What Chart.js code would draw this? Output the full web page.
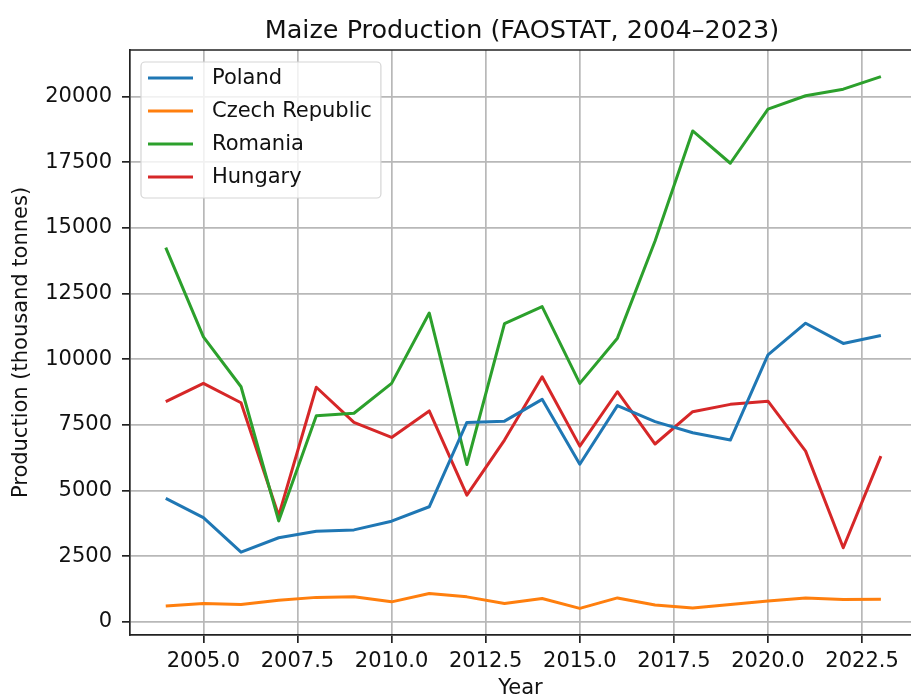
<!DOCTYPE html>
<html>
<head>
<meta charset="utf-8">
<title>Maize Production</title>
<script src="https://cdn.jsdelivr.net/npm/chart.js@4.4.1/dist/chart.umd.min.js"></script>
<style>
    html, body {
        margin: 0;
        padding: 0;
        overflow: hidden;
        background: #ffffff;
    }
    canvas {
        display: block;
    }
</style>
</head>
<body>
<canvas id="chart" width="911" height="699"></canvas>
<script>
// Production in thousand tonnes
const years = [
    2004, 2005, 2006, 2007, 2008, 2009, 2010, 2011, 2012, 2013,
    2014, 2015, 2016, 2017, 2018, 2019, 2020, 2021, 2022, 2023,
];
const poland = [
    4700, 3970, 2650, 3200, 3450, 3500, 3830, 4380, 7590, 7640,
    8470, 6000, 8230, 7620, 7200, 6920, 10160, 11370, 10600, 10900,
];
const czechRepublic = [
    600, 700, 660, 820, 930, 950, 760, 1080, 950, 700,
    890, 510, 910, 640, 530, 660, 790, 910, 850, 860,
];
const romania = [
    14250, 10850, 8950, 3840, 7850, 7940, 9080, 11760, 5990, 11350,
    12000, 9080, 10800, 14500, 18690, 17460, 19520, 20030, 20280, 20760,
];
const hungary = [
    8380, 9080, 8340, 4040, 8930, 7590, 7020, 8030, 4820, 6920,
    9330, 6690, 8760, 6770, 8000, 8280, 8400, 6500, 2820, 6310,
];

const seriesNames = ['Poland', 'Czech Republic', 'Romania', 'Hungary'];
const seriesColors = ['#1f77b4', '#ff7f0e', '#2ca02c', '#d62728'];
const chartTitle = 'Maize Production (FAOSTAT, 2004–2023)';
const xTickStep = 2.5;
const yTickStep = 2500;
// the source picture is cut off just before the right spine
const xViewMax = 2023.8;

const FONT = '\'DejaVu Sans\', \'sans-serif\'';
const TEXT = '#111111';

/**
 * Matplotlib style axis limits: data range plus 5% on each side
 *
 * @param {Array} values Numbers to span
 * @return {Array} [min, max]
 */
function paddedRange(values) {
    'use strict';
    const lo = Math.min(...values);
    const hi = Math.max(...values);
    const pad = (hi - lo) * 0.05;
    return [lo - pad, hi + pad];
}

/**
 * Build ticks on every multiple of step inside the scale limits
 *
 * @param {Number} step Tick spacing
 * @return {Function} afterBuildTicks hook
 */
function stepTicks(step) {
    'use strict';
    return function(scale) {
        const ticks = [];
        for (let v = Math.ceil(scale.min / step) * step; v <= scale.max; v += step) {
            ticks.push({value: v});
        }
        scale.ticks = ticks;
    };
}

/**
 * Top spine of the plot area and the title, centred over the plot area
 */
const pluginFrame = {
    id: 'frame',
    afterDatasetsDraw: function(chart) {
        'use strict';
        const {ctx, chartArea} = chart;
        ctx.save();
        ctx.strokeStyle = '#222222';
        ctx.lineWidth = 1.7;
        ctx.beginPath();
        ctx.moveTo(chartArea.left, chartArea.top);
        ctx.lineTo(chartArea.right, chartArea.top);
        ctx.stroke();
        ctx.restore();
    },
    afterDraw: function(chart, args, opts) {
        'use strict';
        const {ctx} = chart;
        ctx.save();
        ctx.font = opts.fontSize + 'px ' + FONT;
        ctx.fillStyle = TEXT;
        ctx.textAlign = 'center';
        ctx.textBaseline = 'alphabetic';
        ctx.fillText(opts.text, opts.centerX, opts.baseline);
        ctx.restore();
    },
};

/**
 * Legend boxed in the upper left corner of the plot area
 */
const pluginBoxLegend = {
    id: 'boxLegend',
    afterDraw: function(chart, args, opts) {
        'use strict';
        const {ctx, chartArea} = chart;
        const datasets = chart.data.datasets;
        const size = opts.fontSize;
        const left = chartArea.left + opts.offset;
        const top = chartArea.top + opts.offset + 1;
        const rowHeight = opts.rowHeight;
        const lineLen = opts.lineLength;
        const textX = left + 7 + lineLen + 19;

        ctx.save();
        ctx.font = size + 'px ' + FONT;
        let textWidth = 0;
        for (const ds of datasets) {
            textWidth = Math.max(textWidth, ctx.measureText(ds.label).width);
        }
        const width = textX - left + textWidth + 9;
        const height = rowHeight * datasets.length + 4;

        ctx.beginPath();
        ctx.roundRect(left, top, width, height, 4);
        ctx.fillStyle = 'rgba(255, 255, 255, 0.8)';
        ctx.fill();
        ctx.strokeStyle = '#d5d5d5';
        ctx.lineWidth = 1.2;
        ctx.stroke();

        ctx.textBaseline = 'middle';
        ctx.textAlign = 'left';
        datasets.forEach(function(ds, i) {
            const y = top + 16 + i * rowHeight;
            ctx.beginPath();
            ctx.moveTo(left + 7, y);
            ctx.lineTo(left + 7 + lineLen, y);
            ctx.strokeStyle = ds.borderColor;
            ctx.lineWidth = 3;
            ctx.stroke();
            ctx.fillStyle = TEXT;
            ctx.fillText(ds.label, textX, y + 1);
        });
        ctx.restore();
    },
};

const series = [poland, czechRepublic, romania, hungary];
const [xMin] = paddedRange(years);
const [yMin, yMax] = paddedRange(series.flat());

const datasets = series.map(function(values, i) {
    return {
        label: seriesNames[i],
        data: years.map((year, j) => ({x: year, y: values[j]})),
        borderColor: seriesColors[i],
        backgroundColor: seriesColors[i],
        borderWidth: 3,
        borderJoinStyle: 'round',
        pointRadius: 0,
        tension: 0,
    };
});

/**
 * Grid settings shared by both axes
 *
 * @return {Object} grid options
 */
function gridOptions() {
    'use strict';
    return {
        color: '#b8b8b8',
        lineWidth: 1.7,
        drawTicks: true,
        tickLength: 8,
        tickColor: '#222222',
        tickWidth: 1.7,
    };
}

new Chart(document.getElementById('chart').getContext('2d'), {
    type: 'line',
    data: {datasets: datasets},
    options: {
        responsive: false,
        animation: false,
        events: [],
        layout: {padding: {top: 50, left: 0, right: 0, bottom: 0}},
        scales: {
            x: {
                type: 'linear',
                min: xMin,
                max: xViewMax,
                grid: gridOptions(),
                border: {color: '#222222', width: 1.7},
                afterBuildTicks: stepTicks(xTickStep),
                ticks: {
                    autoSkip: false,
                    maxRotation: 0,
                    padding: 6,
                    color: TEXT,
                    font: {family: FONT, size: 21},
                    callback: (v) => v.toFixed(1),
                },
                title: {
                    display: true,
                    text: 'Year',
                    color: TEXT,
                    padding: 0,
                    font: {family: FONT, size: 21, lineHeight: 1},
                },
                afterFit: function(scale) {
                    scale.height = 64;
                },
            },
            y: {
                type: 'linear',
                min: yMin,
                max: yMax,
                grid: gridOptions(),
                border: {color: '#222222', width: 1.7},
                afterBuildTicks: stepTicks(yTickStep),
                ticks: {
                    autoSkip: false,
                    padding: 10,
                    color: TEXT,
                    font: {family: FONT, size: 21},
                    callback: (v) => String(v),
                },
                title: {
                    display: true,
                    text: 'Production (thousand tonnes)',
                    color: TEXT,
                    padding: {top: 11.5, bottom: 0},
                    font: {family: FONT, size: 21, lineHeight: 1},
                },
                afterFit: function(scale) {
                    scale.width = 130;
                },
            },
        },
        plugins: {
            legend: {display: false},
            tooltip: {enabled: false},
            title: {display: false},
            frame: {
                text: chartTitle,
                fontSize: 25.5,
                baseline: 37.5,
                centerX: 522,
            },
            boxLegend: {
                fontSize: 21,
                offset: 11,
                rowHeight: 33,
                lineLength: 45,
            },
        },
    },
    plugins: [pluginFrame, pluginBoxLegend],
});
</script>
</body>
</html>
